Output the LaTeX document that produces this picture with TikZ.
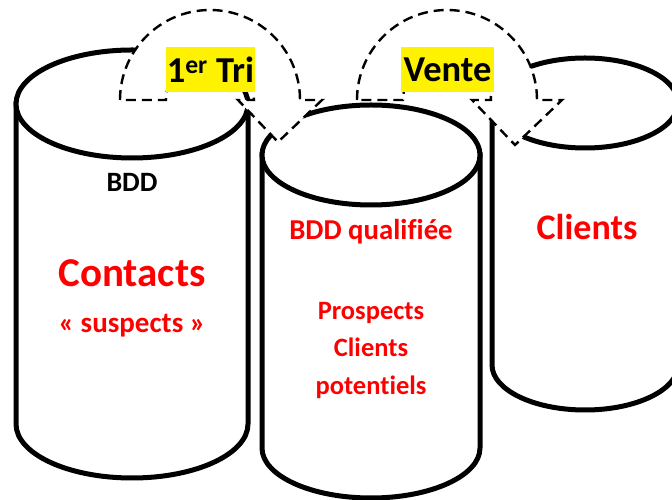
\documentclass[tikz,border=0pt]{standalone}
\usepackage{fontspec}
\setmainfont{Carlito}[Ligatures=NoCommon]

\begin{document}
\begin{tikzpicture}[x=1pt, y=1pt,
  drum/.style={line width=5pt, fill=white},
  turn/.style={line width=2.4pt, dash pattern=on 10pt off 6pt, fill=white},
  tag/.style={fill=yellow, inner sep=0pt, minimum height=45pt, font=\bfseries\fontsize{36.5}{40}\selectfont},
  txt/.style={anchor=base, text=red, inner sep=0pt, font=\bfseries\fontsize{#1}{#1}\selectfont}]
\useasboundingbox (0,0) rectangle (672,500);
% cylinders: centre x / top y / bottom y / x radius / y radius
\foreach \cx/\ty/\by/\rx/\ry in {132/396/76/116/54, 585/397/135/93/45, 371/345/52/109/50} {
  \draw[drum] (\cx-\rx,\ty) -- (\cx-\rx,\by)
    arc[start angle=180, end angle=360, x radius=\rx, y radius=\ry] -- (\cx+\rx,\ty) -- cycle;
  \draw[drum] (\cx,\ty) ellipse[x radius=\rx, y radius=\ry];
}
% dashed turn arrows
\draw[turn] (120,400) arc[start angle=180, end angle=0, radius=90] -- (322,400)
  -- (278,358) -- (238,400) -- (254,400) arc[start angle=0, end angle=180, radius=44] -- cycle;
\draw[turn] (357,400) arc[start angle=180, end angle=0, radius=90] -- (562,400)
  -- (515,355) -- (472,400) -- (491,400) arc[start angle=0, end angle=180, radius=44] -- cycle;
\node[tag, minimum width=89pt] (tri) at (210.5,430.5) {1\textsuperscript{er} Tri};
\node[tag, minimum width=93pt] (vente) at (447.5,430.5) {Vente};
% texts
\node[txt=28, text=black] (bdd) at (132,308) {BDD};
\node[txt=41] (contacts) at (132,213) {Contacts};
\node[txt=29] (suspects) at (132,167) {« suspects »};
\node[txt=28.8] (qualif) at (371,260) {BDD qualifiée};
\node[txt=26.5] (prospects) at (371,180) {Prospects};
\node[txt=26.5] (clientspot) at (371,143) {Clients};
\node[txt=26.5] (potentiels) at (371,105) {potentiels};
\node[txt=36] (clients) at (587,260) {Clients};
\end{tikzpicture}
\end{document}
